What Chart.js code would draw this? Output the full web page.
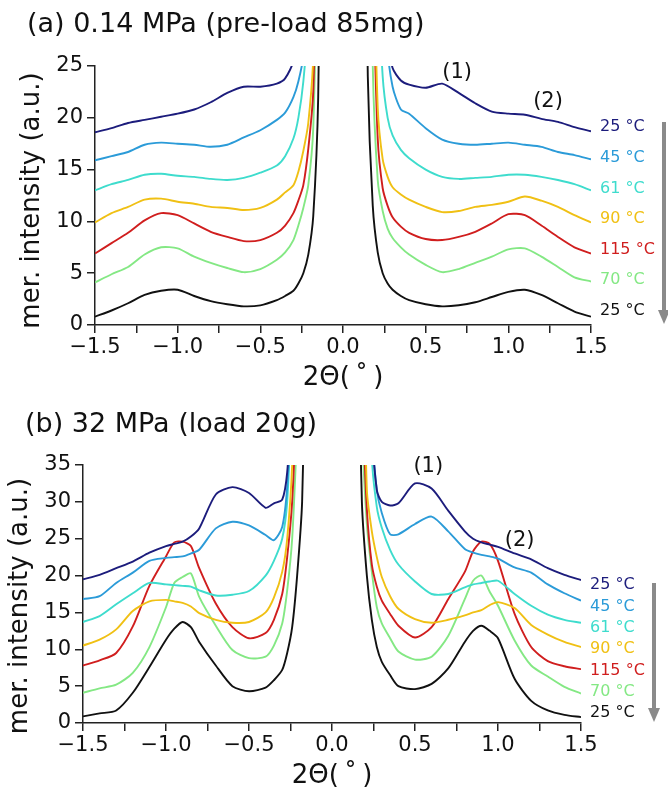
<!DOCTYPE html>
<html>
<head>
<meta charset="utf-8">
<script src="https://cdn.jsdelivr.net/npm/chart.js@4.4.0/dist/chart.umd.min.js"></script>
<style>
  html, body { margin: 0; padding: 0; background: #fff; }
  #wrap { position: relative; width: 668px; height: 790px; overflow: hidden; }
  canvas { position: absolute; left: 0; }
  #chartA { top: 0; }
  #chartB { top: 400px; }
</style>
</head>
<body>
<div id="wrap">
  <canvas id="chartA" width="668" height="400"></canvas>
  <canvas id="chartB" width="668" height="390"></canvas>
</div>
<script>
// ---- data ----
const temps = ["25 °C", "45 °C", "61 °C", "90 °C", "115 °C", "70 °C", "25 °C"];
const colors = ["#1c1c7c", "#2b9bd8", "#3edccd", "#f0c014", "#d01e1e", "#84e884", "#111111"];

// panel (a): 0.14 MPa, 2Theta grid (null in the middle breaks the line at the beam stop)
const xA = [-1.5, -1.4, -1.3, -1.2, -1.1, -1.0, -0.9, -0.8, -0.7, -0.6, -0.5, -0.4, -0.35, -0.3, -0.27, -0.24, -0.21, -0.18, -0.15, -0.12,
  0,
  0.12, 0.15, 0.18, 0.21, 0.24, 0.27, 0.3, 0.35, 0.4, 0.5, 0.6, 0.7, 0.8, 0.9, 1.0, 1.1, 1.2, 1.3, 1.4, 1.5];

const a25top = [18.6, 19.0, 19.5, 19.8, 20.1, 20.4, 20.8, 21.5, 22.4, 23.0, 23.0, 23.3, 23.8, 25.5, 30, 60, 60, 60, 60, 60,
  null,
  60, 60, 60, 60, 60, 28, 24.8, 23.6, 23.2, 22.9, 23.3, 22.4, 21.4, 20.6, 20.4, 20.3, 19.9, 19.6, 19.1, 18.7];
const a45 = [15.9, 16.3, 16.7, 17.4, 17.6, 17.5, 17.4, 17.2, 17.4, 18.1, 18.8, 19.8, 20.5, 22.0, 23.5, 26, 40, 60, 60, 60,
  null,
  60, 60, 60, 60, 60, 27, 23, 20.8, 20.4, 19.0, 17.9, 17.5, 17.4, 17.5, 17.6, 17.4, 17.2, 16.7, 16.4, 16.0];
const a61 = [13.0, 13.6, 14.0, 14.5, 14.6, 14.4, 14.3, 14.1, 14.0, 14.2, 14.7, 15.4, 16.3, 18.0, 20.0, 23.5, 30, 60, 60, 60,
  null,
  60, 60, 60, 35, 24, 20, 18.3, 16.9, 16.1, 15.0, 14.3, 14.1, 14.2, 14.3, 14.5, 14.5, 14.3, 14.0, 13.6, 13.0];
const a90 = [9.9, 10.8, 11.4, 12.1, 12.2, 11.9, 11.7, 11.4, 11.3, 11.1, 11.3, 12.1, 12.8, 13.5, 14.8, 16.8, 19.5, 26, 60, 60,
  null,
  60, 60, 40, 21, 16, 14.3, 13.3, 12.6, 12.1, 11.4, 10.9, 11.0, 11.4, 11.6, 11.9, 12.4, 12.0, 11.4, 10.6, 9.9];
const a115 = [6.9, 7.9, 8.9, 10.1, 10.8, 10.6, 9.8, 9.0, 8.5, 8.1, 8.2, 8.9, 9.6, 10.8, 12.0, 13.5, 17.0, 22.5, 45, 60,
  null,
  60, 60, 35, 18, 13.2, 11.5, 10.4, 9.5, 8.9, 8.3, 8.2, 8.5, 9.0, 9.8, 10.7, 10.6, 9.6, 8.5, 7.5, 6.9];
const a70 = [4.1, 4.9, 5.6, 6.8, 7.5, 7.4, 6.6, 6.0, 5.5, 5.1, 5.4, 6.3, 7.0, 8.2, 9.6, 11.3, 13.5, 19, 40, 60,
  null,
  60, 60, 25, 14, 11, 9.3, 8.4, 7.5, 6.8, 5.8, 5.1, 5.4, 6.0, 6.6, 7.3, 7.4, 6.6, 5.6, 4.6, 4.2];
const a25 = [0.8, 1.4, 2.1, 2.9, 3.3, 3.4, 2.8, 2.3, 2.0, 1.8, 1.9, 2.4, 2.8, 3.3, 4.0, 5.0, 6.8, 10.5, 22, 60,
  null,
  60, 24, 11.5, 7.0, 5.0, 4.0, 3.4, 2.8, 2.4, 2.0, 1.8, 1.9, 2.2, 2.7, 3.2, 3.4, 2.9, 2.1, 1.3, 0.8];

// panel (b): 32 MPa
const xB = [-1.5, -1.4, -1.3, -1.2, -1.1, -1.0, -0.95, -0.9, -0.85, -0.8, -0.7, -0.6, -0.5, -0.4, -0.35, -0.3, -0.27, -0.24, -0.21, -0.18, -0.15,
  0,
  0.15, 0.18, 0.21, 0.24, 0.27, 0.3, 0.35, 0.4, 0.5, 0.6, 0.7, 0.8, 0.85, 0.9, 0.95, 1.0, 1.1, 1.2, 1.3, 1.4, 1.5];

const b25top = [19.5, 20.1, 21.0, 21.9, 23.1, 24.0, 24.3, 24.6, 25.3, 26.4, 31.0, 32.0, 31.2, 29.2, 29.8, 30.3, 34, 45, 60, 60, 60,
  null,
  60, 60, 60, 40, 31.6, 30.0, 29.5, 29.8, 32.5, 31.8, 28.8, 26.0, 25.0, 24.5, 24.2, 23.9, 23.0, 22.2, 21.0, 20.1, 19.4];
const b45 = [16.8, 17.2, 19.0, 20.4, 22.0, 22.4, 22.5, 22.6, 23.0, 23.5, 26.4, 27.3, 26.8, 25.5, 24.8, 26.6, 32, 45, 60, 60, 60,
  null,
  60, 60, 60, 40, 31.6, 28.5, 25.6, 25.6, 27.0, 28.0, 26.0, 23.6, 23.1, 22.8, 22.6, 22.3, 21.1, 20.4, 18.8, 17.6, 16.6];
const b61 = [13.7, 14.5, 16.1, 17.6, 19.0, 18.8, 18.7, 18.6, 18.5, 18.0, 17.3, 17.4, 17.9, 20.0, 22.0, 25.0, 30, 45, 60, 60, 60,
  null,
  60, 60, 60, 36, 29.3, 26.5, 23.5, 21.5, 19.2, 17.5, 17.5, 18.4, 18.8, 19.0, 19.2, 19.3, 17.5, 15.9, 14.7, 14.0, 13.6];
const b90 = [10.5, 11.3, 12.7, 15.2, 16.5, 16.7, 16.5, 16.3, 15.8, 14.9, 14.0, 13.6, 13.7, 15.0, 17.0, 20.5, 25, 35, 60, 60, 60,
  null,
  60, 60, 31.6, 26, 22.5, 19.8, 17.2, 15.5, 14.1, 13.6, 14.0, 14.6, 15.0, 15.3, 16.0, 16.4, 15.6, 13.3, 12.0, 11.0, 10.3];
const b115 = [7.8, 8.5, 9.5, 13.1, 18.6, 22.6, 24.5, 24.6, 24.0, 21.0, 16.2, 13.0, 11.5, 12.2, 14.0, 17.5, 22.5, 30, 45, 60, 60,
  null,
  60, 45, 29, 21.5, 18.5, 16.6, 14.8, 13.2, 11.6, 13.0, 16.8, 20.5, 23.3, 24.6, 24.3, 22.0, 14.8, 10.3, 8.4, 7.7, 7.3];
const b70 = [4.1, 4.7, 5.2, 6.8, 10.3, 15.7, 19.0, 19.8, 20.3, 17.1, 13.2, 9.9, 8.8, 9.0, 10.5, 13.5, 18, 25, 40, 60, 60,
  null,
  60, 40, 27, 20.5, 15.7, 13.5, 11.5, 9.7, 8.6, 9.0, 11.8, 16.8, 19.3, 20.0, 17.8, 15.9, 11.2, 7.8, 6.3, 4.9, 4.0];
const b25 = [0.9, 1.3, 1.7, 4.1, 7.6, 11.3, 12.8, 13.7, 13.0, 11.0, 7.8, 5.0, 4.3, 4.8, 5.8, 7.2, 9.5, 13, 20, 30, 60,
  null,
  60, 30, 20, 14, 10.3, 8.3, 6.5, 5.0, 4.6, 5.3, 7.4, 11.0, 12.5, 13.2, 12.5, 11.5, 6.0, 3.0, 1.7, 1.1, 0.8];

const xTicks = [-1.5, -1.0, -0.5, 0.0, 0.5, 1.0, 1.5];
const xMinorTicks = [-1.25, -0.75, -0.25, 0.25, 0.75, 1.25];
const FONT = '"DejaVu Sans", sans-serif';
const Y_TITLE = "mer. intensity (a.u.)";
const X_TITLE = "2\u0398(\u2009\u02da\u2009)";

function fmtX(v) {
  const r = Math.round(v * 100) / 100;
  if (!xTicks.some(t => Math.abs(t - r) < 1e-6)) return "";
  return r.toFixed(1).replace("-", "\u2212");
}

// draws titles, temperature labels, peak marks and the arrow
const decorPlugin = {
  id: "decor",
  afterDraw(chart, args, o) {
    const { ctx, chartArea, scales } = chart;
    const cx = (chartArea.left + chartArea.right) / 2;
    const cy = (chartArea.top + chartArea.bottom) / 2;
    ctx.save();
    ctx.fillStyle = "#111";
    ctx.textBaseline = "middle";

    ctx.font = "27px " + FONT;
    ctx.textAlign = "left";
    ctx.fillText(o.title, o.titleX, o.titleY);

    ctx.font = "26px " + FONT;
    ctx.textAlign = "center";
    ctx.fillText(X_TITLE, cx, chartArea.bottom + 53);

    ctx.save();
    ctx.translate(chartArea.left - 63, cy + o.yTitleShift);
    ctx.rotate(-Math.PI / 2);
    ctx.fillText(Y_TITLE, 0, 0);
    ctx.restore();

    // peak markers (1), (2)
    ctx.font = "21px " + FONT;
    o.peaks.forEach((p, i) => {
      ctx.fillText("(" + (i + 1) + ")", scales.x.getPixelForValue(p[0]), scales.y.getPixelForValue(p[1]));
    });

    // temperature labels, evenly spaced next to the curve ends
    const sets = chart.data.datasets;
    const last = ds => ds.data[ds.data.length - 1].y;
    const y0 = scales.y.getPixelForValue(last(sets[0])) + o.labelTop;
    const y1 = scales.y.getPixelForValue(last(sets[sets.length - 1])) + o.labelBottom;
    ctx.font = "16px " + FONT;
    ctx.textAlign = "left";
    sets.forEach((ds, i) => {
      ctx.fillStyle = ds.borderColor;
      ctx.fillText(temps[i], chartArea.right + 9, y0 + (y1 - y0) * i / (sets.length - 1));
    });

    // gray arrow
    const ax = chartArea.right + o.arrowDx;
    const top = chartArea.top + o.arrowTop;
    const tip = chartArea.bottom - 1;
    ctx.strokeStyle = "#8a8a8a";
    ctx.fillStyle = "#8a8a8a";
    ctx.lineWidth = 4;
    ctx.beginPath();
    ctx.moveTo(ax, top);
    ctx.lineTo(ax, tip - 12);
    ctx.stroke();
    ctx.beginPath();
    ctx.moveTo(ax - 6, tip - 14);
    ctx.lineTo(ax + 6, tip - 14);
    ctx.lineTo(ax, tip);
    ctx.closePath();
    ctx.fill();
    ctx.restore();
  }
};

function makeChart(id, xs, series, o) {
  const datasets = series.map((vals, i) => ({
    label: temps[i],
    data: xs.map((x, k) => ({ x: x, y: vals[k] })),
    borderColor: colors[i],
    borderWidth: 1.9,
    pointRadius: 0,
    tension: 0.25,
    spanGaps: false
  }));
  const axisGrid = { drawOnChartArea: false, drawTicks: true, tickLength: 8, color: "#222", lineWidth: 1.5 };
  return new Chart(document.getElementById(id), {
    type: "line",
    data: { datasets },
    options: {
      responsive: false,
      animation: false,
      events: [],
      layout: { padding: { left: 0, top: o.top, right: 668 - o.right, bottom: o.height - o.bottom - 40 } },
      plugins: { legend: { display: false }, tooltip: { enabled: false }, decor: o },
      scales: {
        x: {
          type: "linear",
          min: -1.5,
          max: 1.5,
          afterBuildTicks: s => { s.ticks = xTicks.concat(xMinorTicks).sort((p, q) => p - q).map(v => ({ value: v })); },
          ticks: { callback: fmtX, color: "#111", font: { family: FONT, size: 21 }, padding: 2, maxRotation: 0, autoSkip: false },
          grid: axisGrid,
          border: { display: true, color: "#222", width: 1.5 },
          afterFit: s => { s.height = 40; s.paddingLeft = 0; s.paddingRight = 0; }
        },
        y: {
          min: 0,
          max: o.ymax,
          ticks: { stepSize: 5, color: "#111", font: { family: FONT, size: 21 }, padding: 4 },
          grid: axisGrid,
          border: { display: true, color: "#222", width: 1.5 },
          afterFit: s => { s.width = o.left; s.paddingTop = 0; s.paddingBottom = 0; }
        }
      }
    },
    plugins: [decorPlugin]
  });
}

makeChart("chartA", xA, [a25top, a45, a61, a90, a115, a70, a25], {
  left: 95, right: 591, top: 66, bottom: 325, height: 400, ymax: 25,
  title: "(a) 0.14 MPa (pre-load 85mg)", titleX: 27, titleY: 25, yTitleShift: 5,
  peaks: [[0.69, 24.4], [1.24, 21.6]],
  labelTop: -4, labelBottom: -6, arrowDx: 73, arrowTop: 56
});

makeChart("chartB", xB, [b25top, b45, b61, b90, b115, b70, b25], {
  left: 83, right: 581, top: 65, bottom: 323, height: 390, ymax: 35,
  title: "(b) 32 MPa (load 20g)", titleX: 25, titleY: 25, yTitleShift: 12,
  peaks: [[0.58, 34.8], [1.13, 24.8]],
  labelTop: 5, labelBottom: -4, arrowDx: 73, arrowTop: 118
});
</script>
</body>
</html>
